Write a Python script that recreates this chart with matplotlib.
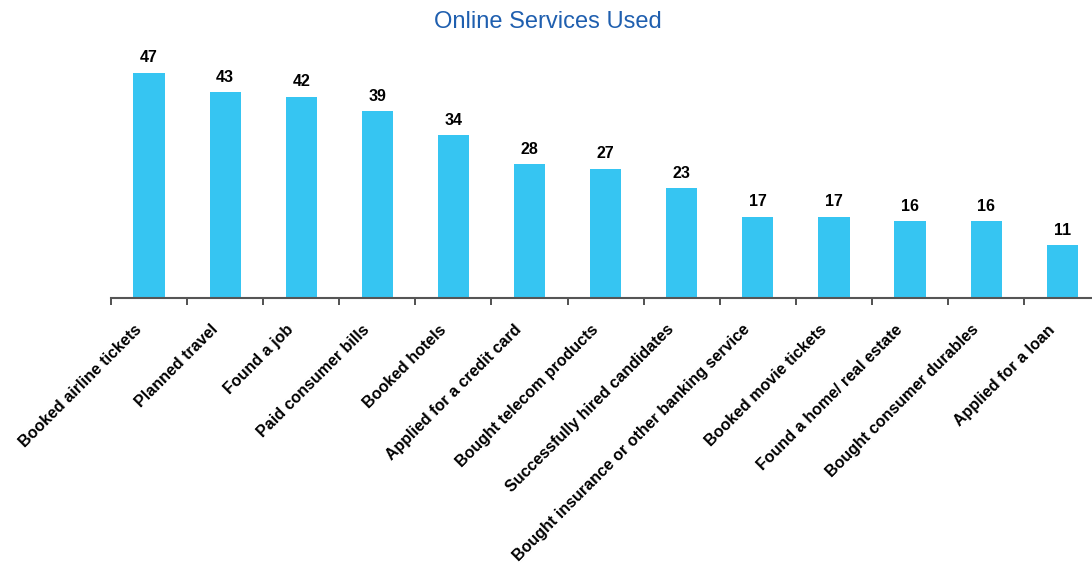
import numpy as np
import matplotlib.pyplot as plt

services = ['Booked airline tickets', 'Planned travel', 'Found a job',
            'Paid consumer bills', 'Booked hotels', 'Applied for a credit card',
            'Bought telecom products', 'Successfully hired candidates',
            'Bought insurance or other banking service', 'Booked movie tickets',
            'Found a home/ real estate', 'Bought consumer durables',
            'Applied for a loan']
pct = [47, 43, 42, 39, 34, 28, 27, 23, 17, 17, 16, 16, 11]

plt.rcParams['font.family'] = ['Liberation Sans', 'DejaVu Sans']

fig = plt.figure(figsize=(10.92, 5.71), dpi=100)
ax = fig.add_axes([0.1016, 0.478, 0.906, 0.42])

x = np.arange(len(services))
ax.bar(x, pct, width=0.41, color='#36C5F2')
for xi, v in zip(x, pct):
    ax.text(xi, v + 1.5, str(v), ha='center', va='bottom',
            fontsize=11.5, fontweight='bold')

ax.set_xlim(-0.5, len(services) - 0.5)
ax.set_ylim(0, 50)
ax.set_yticks([])
for s in ['top', 'right', 'left']:
    ax.spines[s].set_visible(False)
ax.spines['bottom'].set_color('#555555')
ax.spines['bottom'].set_linewidth(1.5)

# ticks sit between categories, labels sit under the bars
ax.set_xticks(np.arange(len(services) + 1) - 0.5)
ax.set_xticklabels([])
ax.tick_params(axis='x', length=5, width=1.2, color='#333333')
for xi, name in zip(x, services):
    ax.text(xi - 0.2, -5.0, name, rotation=45, ha='right', va='top',
            rotation_mode='anchor', fontsize=11.5, fontweight='bold')

fig.text(0.502, 0.962, 'Online Services Used', ha='center', va='center',
         fontsize=17, color='#1F5FAF')

fig.savefig('out.png', dpi=100)
